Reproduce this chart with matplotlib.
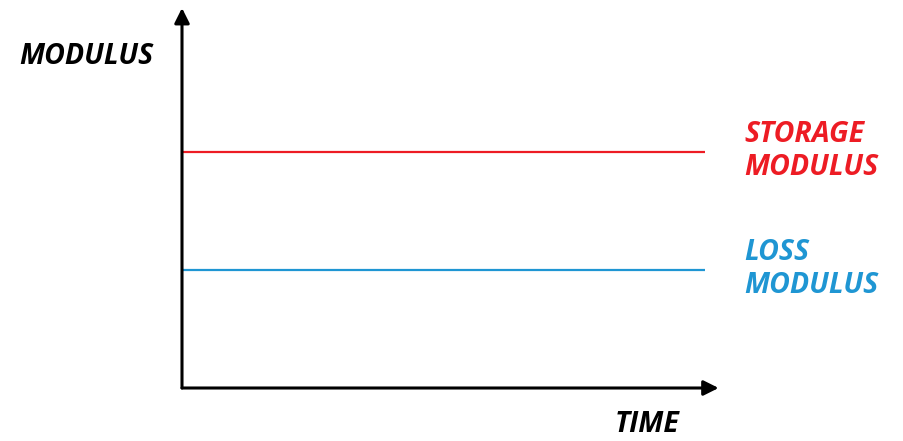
import matplotlib
matplotlib.use("Agg")
import matplotlib.pyplot as plt

# Schematic modulus levels over time (arbitrary units)
series_names = ["STORAGE\nMODULUS", "LOSS\nMODULUS"]
series_levels = [0.62, 0.31]
series_colors = ["#ED1C24", "#1F96D3"]
time_range = [0.0, 1.0]

W, H = 904, 441
fig = plt.figure(figsize=(W / 100, H / 100), dpi=100)
ax = fig.add_axes([182 / W, (441 - 388) / H, (705 - 182) / W, (388 - 8) / H])
ax.set_xlim(0, 1)
ax.set_ylim(0, 1)
ax.axis("off")

font = dict(family=["Open Sans", "DejaVu Sans"], weight="bold", style="italic", size=20.5)

for name, level, color in zip(series_names, series_levels, series_colors):
    ax.plot(time_range, [level, level], color=color, lw=1.6, solid_capstyle="butt")
    ax.text(1.076, level + 0.003, name, color=color, ha="left", va="center",
            linespacing=1.17, transform=ax.transData, **font)

# Axes with arrowheads
arrow = dict(arrowstyle="-|>,head_length=0.9,head_width=0.45", color="black", lw=2.2,
             shrinkA=0, shrinkB=0)
ax.annotate("", xy=(1.026, 0), xytext=(0, 0), xycoords="axes fraction",
            textcoords="axes fraction", arrowprops=arrow, annotation_clip=False)
ax.annotate("", xy=(0, 1.0), xytext=(0, 0), xycoords="axes fraction",
            textcoords="axes fraction", arrowprops=arrow, annotation_clip=False)

fig.text(19 / W, 1 - 57 / H, "MODULUS", ha="left", va="center", **font)
fig.text(647 / W, 1 - 425 / H, "TIME", ha="center", va="center", **font)

fig.savefig("out.png", dpi=100, facecolor="white")
